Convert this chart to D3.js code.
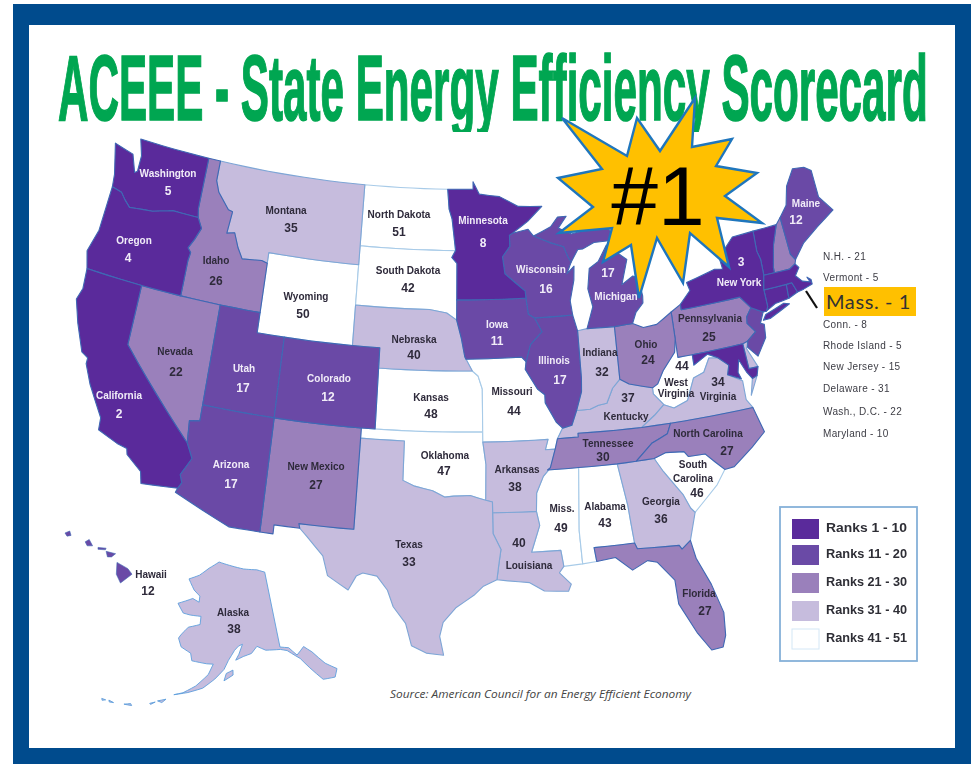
<!DOCTYPE html>
<html><head><meta charset="utf-8">
<script src="https://cdn.jsdelivr.net/npm/d3@7/dist/d3.min.js"></script>
<style>html,body{margin:0;padding:0;background:#fff}svg{display:block}</style>
</head><body><svg id="c" width="971" height="764"></svg>
<script>
// ---------- data ----------
const stateCodes=["WA","OR","CA","NV","ID","MT","WY","UT","CO","AZ","NM","ND","SD","NE","KS","OK","TX","MN","IA","MO","AR","LA","WI","IL","MI","IN","OH","KY","TN","WV","VA","NC","SC","GA","AL","MS","FL","PA","NY","VT","NH","ME","MA","RI","CT","NJ","DE","MD","DC"];
const stateRanks=[5,4,2,22,26,35,50,17,12,17,27,51,42,40,48,47,33,8,11,44,38,40,16,17,17,32,24,37,30,44,34,27,46,36,43,49,27,25,3,5,21,12,1,5,8,15,31,10,22];
const akRank=38, hiRank=12;
const stateOutlines=[
[[[-124.7,48.4],[-123.1,48.15],[-122.6,47.3],[-122.4,47.4],[-122.4,48.2],[-122.8,49],[-117.03,49],[-117.04,46.42],[-116.92,45.99],[-118.98,46],[-119.3,45.93],[-120.5,45.7],[-121.2,45.65],[-122.3,45.55],[-122.8,45.85],[-123.2,46.15],[-124,46.27],[-124.1,46.9]]],
[[[-124,46.27],[-123.2,46.15],[-122.8,45.85],[-122.3,45.55],[-121.2,45.65],[-120.5,45.7],[-119.3,45.93],[-118.98,46],[-116.92,45.99],[-116.5,45.5],[-116.85,44.9],[-117.22,44.4],[-116.95,44.2],[-117.03,43.8],[-117.03,42],[-120,42],[-124.2,42],[-124.55,42.84],[-124.1,44]]],
[[[-124.2,42],[-120,42],[-120,39],[-114.63,35],[-114.14,34.3],[-114.72,33.4],[-114.52,33.03],[-114.72,32.72],[-117.12,32.53],[-117.3,33.1],[-118.4,33.75],[-118.5,34.03],[-119.2,34.15],[-120.6,34.55],[-120.65,35.15],[-121.9,36.6],[-122.5,37.5],[-122.5,37.8],[-123,38],[-123.8,39.3],[-124.35,40.4],[-124.1,41]]],
[[[-120,42],[-117.03,42],[-114.04,42],[-114.05,37],[-114.05,36.2],[-114.75,36.1],[-114.63,35],[-120,39]]],
[[[-117.03,49],[-116.05,49],[-116.05,48],[-115.7,47.45],[-114.7,46.7],[-114.35,46.65],[-114.5,45.55],[-113.9,45.65],[-113.45,44.95],[-113,44.45],[-111.5,44.55],[-111.05,44.47],[-111.05,42],[-114.04,42],[-117.03,42],[-117.03,43.8],[-116.95,44.2],[-117.22,44.4],[-116.85,44.9],[-116.5,45.5],[-116.92,45.99],[-117.04,46.42]]],
[[[-116.05,49],[-104.05,49],[-104.05,45.94],[-104.05,45],[-111.05,45],[-111.05,44.47],[-111.5,44.55],[-113,44.45],[-113.45,44.95],[-113.9,45.65],[-114.5,45.55],[-114.35,46.65],[-114.7,46.7],[-115.7,47.45],[-116.05,48]]],
[[[-111.05,45],[-104.05,45],[-104.05,43],[-104.05,41],[-111.05,41]]],
[[[-114.04,42],[-111.05,42],[-111.05,41],[-109.05,41],[-109.05,37],[-114.05,37]]],
[[[-109.05,41],[-104.05,41],[-102.05,41],[-102.05,40],[-102.05,37],[-103,37],[-109.05,37]]],
[[[-114.05,37],[-109.05,37],[-109.05,31.33],[-111.07,31.33],[-114.82,32.5],[-114.72,32.72],[-114.52,33.03],[-114.72,33.4],[-114.14,34.3],[-114.63,35],[-114.75,36.1],[-114.05,36.2]]],
[[[-109.05,37],[-103,37],[-103.05,32],[-106.62,32],[-106.53,31.78],[-108.2,31.78],[-108.2,31.33],[-109.05,31.33]]],
[[[-104.05,49],[-97.23,49],[-97.1,48],[-96.85,47.5],[-96.56,45.94],[-104.05,45.94]]],
[[[-104.05,45.94],[-96.56,45.94],[-96.85,45.6],[-96.45,45.3],[-96.45,43.5],[-96.45,42.5],[-97.2,42.85],[-98.5,43],[-104.05,43]]],
[[[-104.05,43],[-98.5,43],[-97.2,42.85],[-96.45,42.5],[-96.1,41.6],[-95.85,40.7],[-95.31,40],[-102.05,40],[-102.05,41],[-104.05,41]]],
[[[-102.05,40],[-95.31,40],[-94.9,39.75],[-94.61,39.11],[-94.62,37],[-102.05,37]]],
[[[-103,37],[-94.62,37],[-94.62,36.5],[-94.43,35.4],[-94.48,33.64],[-95.5,33.88],[-96.6,33.85],[-97.2,33.8],[-98,34.1],[-99.2,34.3],[-100,34.56],[-100,36.5],[-103,36.5]]],
[[[-106.62,32],[-103.05,32],[-103,36.5],[-100,36.5],[-100,34.56],[-99.2,34.3],[-98,34.1],[-97.2,33.8],[-96.6,33.85],[-95.5,33.88],[-94.48,33.64],[-94.04,33.55],[-94.04,33.02],[-94.04,32],[-93.55,31.2],[-93.7,30.5],[-93.85,29.7],[-94.7,29.4],[-95.3,28.95],[-96.4,28.35],[-97.2,27.6],[-97.4,26.9],[-97.15,25.96],[-98.2,26.05],[-99.1,26.4],[-99.5,27.5],[-100.3,28.3],[-100.7,29.1],[-101.4,29.77],[-102.3,29.88],[-102.7,29.7],[-103.15,28.98],[-104.5,29.6],[-104.9,30.55],[-106,31.4],[-106.53,31.78]]],
[[[-97.23,49],[-95.15,49],[-95.15,49.38],[-94.64,48.75],[-93,48.6],[-91.5,48.07],[-89.6,48],[-90.8,47.3],[-92.05,46.75],[-92.3,46.65],[-92.3,46.1],[-92.9,45.6],[-92.75,44.75],[-91.25,43.85],[-91.22,43.5],[-96.45,43.5],[-96.45,45.3],[-96.85,45.6],[-96.56,45.94],[-96.85,47.5],[-97.1,48]]],
[[[-96.45,43.5],[-91.22,43.5],[-91.1,42.7],[-90.65,42.5],[-90.15,41.8],[-91.05,41.2],[-91.42,40.38],[-91.73,40.61],[-95.77,40.58],[-95.85,40.7],[-96.1,41.6],[-96.45,42.5]]],
[[[-95.77,40.58],[-91.73,40.61],[-91.42,40.38],[-91.5,40],[-90.7,39],[-90.2,38.7],[-90.2,38.3],[-89.5,37.3],[-89.1,37],[-89.5,36.5],[-89.7,36],[-90.37,36],[-90.15,36.5],[-94.62,36.5],[-94.62,37],[-94.61,39.11],[-94.9,39.75],[-95.31,40]]],
[[[-94.62,36.5],[-90.15,36.5],[-90.37,36],[-89.7,36],[-90.1,35.1],[-90.6,34.7],[-91.1,33.9],[-91.17,33],[-94.04,33.02],[-94.04,33.55],[-94.48,33.64],[-94.43,35.4]]],
[[[-94.04,33.02],[-91.17,33],[-91,32.3],[-91.6,31],[-89.73,31],[-89.6,30.2],[-89.9,29.9],[-89.2,29.3],[-89.4,28.95],[-90.9,29.05],[-91.8,29.5],[-93.85,29.7],[-93.7,30.5],[-93.55,31.2],[-94.04,32]]],
[[[-92.3,46.65],[-92.05,46.75],[-90.8,46.9],[-90.4,46.55],[-89.1,46.15],[-88.1,45.9],[-87.8,45.35],[-87.6,45.1],[-88,44.55],[-87.4,44.9],[-87.5,44.2],[-87.9,43.2],[-87.8,42.5],[-90.65,42.5],[-91.1,42.7],[-91.22,43.5],[-91.25,43.85],[-92.75,44.75],[-92.9,45.6],[-92.3,46.1]]],
[[[-90.65,42.5],[-87.8,42.5],[-87.53,41.7],[-87.53,39.35],[-87.6,38.7],[-88.05,37.8],[-88.45,37.1],[-89.1,37],[-89.5,37.3],[-90.2,38.3],[-90.2,38.7],[-90.7,39],[-91.5,40],[-91.42,40.38],[-91.05,41.2],[-90.15,41.8]]],
[[[-86.82,41.76],[-84.8,41.7],[-83.45,41.73],[-83.1,42.25],[-82.5,42.65],[-82.45,43],[-82.6,43.9],[-83,44.05],[-83.9,43.7],[-83.3,44.9],[-84.75,45.75],[-85.5,45],[-86.25,44.7],[-86.5,43.7],[-86.25,42.8]],
 [[-90.4,46.55],[-89,46.95],[-88.4,47.4],[-87.7,47.4],[-88.4,46.85],[-87.4,46.5],[-85,46.75],[-84.4,46.5],[-84,46],[-84.7,45.95],[-85.7,45.95],[-86.6,45.7],[-87,45.7],[-87.6,45.1],[-87.8,45.35],[-88.1,45.9],[-89.1,46.15]]],
[[[-87.53,41.7],[-86.82,41.76],[-84.8,41.7],[-84.82,39.1],[-85.4,38.7],[-85.9,38],[-86.5,37.95],[-87.1,37.8],[-88.05,37.8],[-87.6,38.7],[-87.53,39.35]]],
[[[-84.8,41.7],[-83.45,41.73],[-82.7,41.45],[-81.7,41.5],[-80.52,41.98],[-80.52,40.64],[-80.7,40],[-81.7,39.2],[-82.2,38.6],[-82.6,38.45],[-83.3,38.6],[-84.2,38.8],[-84.82,39.1]]],
[[[-89.5,36.5],[-89.1,37],[-88.45,37.1],[-88.05,37.8],[-87.1,37.8],[-86.5,37.95],[-85.9,38],[-85.4,38.7],[-84.82,39.1],[-84.2,38.8],[-83.3,38.6],[-82.6,38.45],[-82.6,38.15],[-81.97,37.54],[-82.7,37.1],[-83.68,36.6],[-88.07,36.68],[-88.07,36.5]]],
[[[-90.1,35.1],[-89.7,36],[-89.5,36.5],[-88.07,36.5],[-88.07,36.68],[-83.68,36.6],[-81.68,36.59],[-82,36.1],[-83.1,35.77],[-84.32,34.99],[-85.6,34.98],[-88.2,35],[-90.3,35]]],
[[[-80.52,40.64],[-80.52,39.72],[-79.48,39.72],[-79.48,39.2],[-78.4,39.6],[-77.72,39.32],[-78.35,39.4],[-78.87,38.76],[-79.65,38.58],[-80.3,37.55],[-81.3,37.3],[-81.97,37.54],[-82.6,38.15],[-82.6,38.45],[-82.2,38.6],[-81.7,39.2],[-80.7,40]]],
[[[-83.68,36.6],[-82.7,37.1],[-81.97,37.54],[-81.3,37.3],[-80.3,37.55],[-79.65,38.58],[-78.87,38.76],[-78.35,39.4],[-77.72,39.32],[-77.05,38.85],[-77.25,38.4],[-76.3,37.95],[-76.3,37],[-75.95,36.55],[-81.68,36.59]],
 [[-75.6,37.95],[-75.24,38.03],[-75.9,37.15]]],
[[[-84.32,34.99],[-83.1,35.77],[-82,36.1],[-81.68,36.59],[-75.95,36.55],[-75.5,35.25],[-76.5,34.65],[-77.9,33.9],[-78.55,33.86],[-79.68,34.8],[-80.8,34.82],[-81.05,35.1],[-82.3,35.2],[-83.1,35]]],
[[[-83.1,35],[-82.3,35.2],[-81.05,35.1],[-80.8,34.82],[-79.68,34.8],[-78.55,33.86],[-79.2,33.2],[-80.9,32.05],[-81.15,32.3],[-81.5,33],[-82.6,34.3]]],
[[[-85.6,34.98],[-84.32,34.99],[-83.1,35],[-82.6,34.3],[-81.5,33],[-81.15,32.3],[-80.9,32.05],[-81.45,30.72],[-82.05,30.36],[-82.2,30.57],[-84.86,30.7],[-85,31],[-85.1,32],[-85.18,32.87]]],
[[[-88.2,35],[-85.6,34.98],[-85.18,32.87],[-85.1,32],[-85,31],[-87.6,31],[-87.5,30.3],[-88.4,30.25],[-88.47,31.9]]],
[[[-90.3,35],[-88.2,35],[-88.47,31.9],[-88.4,30.25],[-89.6,30.2],[-89.73,31],[-91.6,31],[-91,32.3],[-91.17,33],[-91.1,33.9],[-90.6,34.7],[-90.1,35.1]]],
[[[-87.6,31],[-85,31],[-84.86,30.7],[-82.2,30.57],[-82.05,30.36],[-81.45,30.72],[-81.25,29.8],[-80.55,28.4],[-80.05,26.9],[-80.15,25.75],[-80.4,25.2],[-81.1,25.15],[-81.8,26.1],[-82.7,27.7],[-82.75,28.9],[-83.7,29.9],[-84.3,30.05],[-85.3,29.68],[-86.3,30.4],[-87.5,30.3]]],
[[[-80.52,41.98],[-79.76,42.27],[-79.76,42],[-75.35,42],[-74.7,41.36],[-75.13,40.97],[-75.2,40.65],[-74.72,40.15],[-75.4,39.8],[-75.79,39.72],[-79.48,39.72],[-80.52,39.72],[-80.52,40.64]]],
[[[-79.76,42.27],[-78.9,42.85],[-79.05,43.27],[-76.8,43.63],[-76.2,43.55],[-76.3,44.15],[-75,44.98],[-73.35,45.01],[-73.4,44],[-73.25,43.55],[-73.27,42.75],[-73.5,42.05],[-73.49,41.2],[-73.65,41],[-73.9,41],[-74.7,41.36],[-75.35,42],[-79.76,42]],
 [[-74,40.6],[-73.75,40.85],[-72.3,41.15],[-71.9,41.05],[-73.5,40.6]]],
[[[-73.35,45.01],[-71.5,45.01],[-72.05,44.1],[-72.45,43],[-72.46,42.73],[-73.27,42.75],[-73.25,43.55],[-73.4,44]]],
[[[-71.5,45.01],[-71.08,45.3],[-70.98,43.4],[-70.7,43.07],[-70.82,42.87],[-71.3,42.7],[-72.46,42.73],[-72.45,43],[-72.05,44.1]]],
[[[-71.08,45.3],[-70.4,45.8],[-70,46.7],[-69.2,47.45],[-68.3,47.35],[-67.8,47.07],[-67.8,45.7],[-67,44.85],[-68.5,44.3],[-69.8,43.75],[-70.7,43.07],[-70.98,43.4]]],
[[[-73.5,42.05],[-73.27,42.75],[-72.46,42.73],[-71.3,42.7],[-70.82,42.87],[-70.6,42.65],[-71,42.3],[-70.6,41.95],[-70.05,41.8],[-70.2,42.07],[-69.95,41.9],[-69.95,41.67],[-70.65,41.55],[-71.13,41.5],[-71.38,42.02],[-71.8,42.02]]],
[[[-71.8,42.02],[-71.38,42.02],[-71.13,41.5],[-71.85,41.32]]],
[[[-73.5,42.05],[-71.8,42.02],[-71.85,41.32],[-72.9,41.25],[-73.65,41],[-73.49,41.2]]],
[[[-75.13,40.97],[-74.7,41.36],[-73.9,41],[-74.25,40.5],[-74,40.4],[-74.1,39.75],[-74.9,38.95],[-75.5,39.5],[-75.4,39.8],[-74.72,40.15],[-75.2,40.65]]],
[[[-75.79,39.72],[-75.4,39.8],[-75.6,39.45],[-75.05,38.45],[-75.7,38.46]]],
[[[-79.48,39.72],[-75.79,39.72],[-75.7,38.46],[-75.05,38.45],[-75.24,38.03],[-75.6,37.95],[-75.9,38.3],[-76.3,39],[-76.5,38.4],[-76.35,38.05],[-77.25,38.4],[-77.05,38.85],[-77.72,39.32],[-78.4,39.6],[-79.48,39.2]]],
[[[-77.12,38.93],[-77.04,39],[-76.91,38.89],[-77.04,38.79]]]
];
const akOutline=[[[-141,69.65],[-143.5,70.1],[-148,70.4],[-152,70.85],[-156.6,71.35],[-160,70.5],[-163,69.5],[-166.2,68.85],[-164,67.6],[-162,66.95],[-162,66.2],[-164,66.55],[-168,65.65],[-166,64.6],[-164,64.5],[-161,64.5],[-161,63.5],[-164,63],[-165.5,62],[-166,61.5],[-165,60.5],[-162.5,59.9],[-162,59],[-158.5,58.8],[-157,58.8],[-158,57.5],[-160.5,56],[-163,55],[-164.8,54.6],[-162,55.1],[-159,55.8],[-156.5,57],[-154.5,58.2],[-153.5,59.3],[-152,60.5],[-151,61],[-150,61.2],[-151,60],[-151.8,59.3],[-150,59.7],[-148,60],[-146.5,60.8],[-144.5,60.2],[-141,60],[-139.5,59.7],[-137,58.4],[-135.5,57],[-133.5,55.2],[-131,55],[-130,55.9],[-132,57],[-134,58.8],[-135.5,59.7],[-137.5,58.9],[-139,60],[-141,60.3]],
[[-154.5,56.8],[-152.5,57.5],[-152.5,58.1],[-154,57.7]],
[[-166.9,53.4],[-166.2,53.9],[-167.8,53.5]],[[-169,52.9],[-168.2,53.3],[-169.2,53]],[[-172.5,52.2],[-174,52.1],[-172.8,52.4]],[[-176.8,51.8],[-176,51.9],[-177,52]],[[-178.2,51.7],[-177.6,51.9],[-178.4,51.9]]];
const hiOutline=[[[-155.9,20.25],[-155.1,19.85],[-154.8,19.5],[-155.65,18.95],[-155.95,19.5]],[[-156.7,20.95],[-156,20.8],[-156.3,20.6],[-156.6,20.6]],[[-158.25,21.55],[-157.95,21.7],[-157.7,21.3],[-158.1,21.3]],[[-159.75,22.1],[-159.4,22.23],[-159.3,21.95],[-159.6,21.9]],[[-157.3,21.2],[-156.7,21.15],[-156.75,21.05],[-157.3,21.08]]];
const stateLabels=["Washington","Oregon","California","Nevada","Idaho","Montana","Wyoming","Utah","Colorado","Arizona","New Mexico","North Dakota","South Dakota","Nebraska","Kansas","Oklahoma","Texas","Minnesota","Iowa","Missouri","Arkansas","Louisiana","Wisconsin","Illinois","Michigan","Indiana","Ohio","Kentucky","Tennessee","West|Virginia","Virginia","North Carolina","South|Carolina","Georgia","Alabama","Miss.","Florida","Pennsylvania","New York","Maine","Alaska","Hawaii"];
const labelValues=[5,4,2,22,26,35,50,17,12,17,27,51,42,40,48,47,33,8,11,44,38,40,16,17,17,32,24,37,30,44,34,27,46,36,43,49,27,25,3,12,38,12];
const sideList=["N.H. - 21","Vermont - 5","Mass. - 1","Conn. - 8","Rhode Island - 5","New Jersey - 15","Delaware - 31","Wash., D.C. - 22","Maryland - 10"];
const legendLabels=["Ranks 1 - 10","Ranks 11 - 20","Ranks 21 - 30","Ranks 31 - 40","Ranks 41 - 51"];
const rankBreaks=[11,21,31,41];
const rankColors=["#5a2a9b","#6a4aa6","#9a80bb","#c6bcdd","#ffffff"];

// ---------- layout ----------
// [name x, name y, value x, value y] centres
const labelPos=[[168,173,168,191],[134,240,128,258],[119,395,119,414],[175,351,176,372],[216,260,216,281],[286,210,291,228],[306,296,303,314],[244,368,243,388],[329,378,328,397],[231,464,231,484],[316,466,316,485],[399,214,399,232],[408,270,408,288],[414,339,414,355],[431,397,431,414],[445,455,444,471],[409,544,409,562],[483,220,483,243],[497,324,497,341],[512,391,514,411],[517,469,515,487],[529,565,519,543],[541,269,546,289],[554,360,560,380],[616,296,608,273],[600,352,602,372],[646,344,648,360],[626,416,628,398],[608,443,603,457],[676,382,682,366],[718,396,718,382],[708,433,727,451],[693,464,697,493],[661,501,661,519],[605,506,605,523],[562,508,561,528],[699,593,705,611],[710,318,709,337],[739,282,741,262],[806,203,796,220],[233,612,234,629],[151,574,148,591]];
const sideY=[256,277,302,324,345,366,388,411,433];
const legendY=[519,545,573,601,629];
const starVerts=[[562,118],[627,156],[637,118],[660,151],[695,98],[692,147],[732,139],[716,166],[757,173],[725,196],[762,223],[717,218],[729,267],[690,233],[683,283],[657,238],[639,298],[631,245],[603,262],[612,228],[559,233],[593,207],[558,178],[602,169]];

// ---------- drawing ----------
const svg=d3.select("#c");
const defs=svg.append("defs");
defs.append("filter").attr("id","soft").append("feGaussianBlur").attr("stdDeviation",0.55);
defs.append("filter").attr("id","softT").append("feGaussianBlur").attr("stdDeviation",0.4);
defs.append("clipPath").attr("id","titleClip").append("rect").attr("x",29).attr("y",25).attr("width",926).attr("height",107);

svg.append("rect").attr("x",13).attr("y",4).attr("width",958).attr("height",760).attr("fill","#004b8d");
svg.append("rect").attr("x",29).attr("y",25).attr("width",926).attr("height",723).attr("fill","#ffffff");

const titleG=svg.append("g").attr("clip-path","url(#titleClip)");
const title=titleG.append("text").attr("font-family","Liberation Sans").attr("font-weight","bold").attr("font-size",92).attr("fill","#00a651").attr("stroke","#00a651").attr("stroke-width",1.6)
  .text("ACEEE - State Energy Efficiency Scorecard");
title.attr("transform",`translate(58,120) scale(${870/title.node().getComputedTextLength()},1)`);

const color=d3.scaleThreshold().domain(rankBreaks).range(rankColors);

function densify(ring){
  const out=[];
  ring.forEach((p,i)=>{
    const q=ring[(i+1)%ring.length];
    const n=Math.max(1,Math.ceil(Math.abs(q[0]-p[0])));
    d3.range(n).forEach(k=>out.push([p[0]+(q[0]-p[0])*k/n,p[1]+(q[1]-p[1])*k/n]));
  });
  out.push(out[0]);
  return out;
}
function feature(polys,rank){return {type:"Feature",properties:{rank},geometry:{type:"MultiPolygon",coordinates:polys.map(r=>[densify(r)])}};}
function fitted(proj,xPts,yPts){
  const x=d3.scaleLinear().domain(xPts.map(p=>proj(p.ll)[0])).range(xPts.map(p=>p.px));
  const y=d3.scaleLinear().domain(yPts.map(p=>proj(p.ll)[1])).range(yPts.map(p=>p.px));
  return d3.geoPath(d3.geoTransform({point(lon,lat){const q=proj([lon,lat]);this.stream.point(x(q[0]),y(q[1]));}}));
}
const conic=(rot,par)=>d3.geoConicEqualArea().rotate([rot,0]).parallels(par).scale(1).translate([0,0]).precision(0);
const lower=fitted(conic(96,[29.5,45.5]),
  [{ll:[-124.2,42],px:87},{ll:[-67,44.85],px:833}],
  [{ll:[-122.8,49],px:139},{ll:[-81.1,25.15],px:650}]);
const alaska=fitted(conic(154,[55,65]),
  [{ll:[-168,65.65],px:178},{ll:[-130,55.9],px:337}],
  [{ll:[-156.6,71.35],px:562},{ll:[-141,60.3],px:647}]);
const hawaii=fitted(conic(157,[8,18]),
  [{ll:[-159.75,22.1],px:65},{ll:[-154.8,19.5],px:132}],
  [{ll:[-159.4,22.23],px:531},{ll:[-155.65,18.95],px:583}]);

const mapG=svg.append("g").attr("filter","url(#soft)");
const strokeFor=r=>r>40?"#a8cbe8":(r>30?"#7ea6d6":"#3f68b4");
const feats=stateOutlines.map((o,i)=>feature(o,stateRanks[i]));
const order=d3.range(feats.length).sort((a,b)=>stateRanks[b]-stateRanks[a]);
mapG.selectAll("path.st").data(order.map(i=>feats[i])).join("path").attr("class","st")
  .attr("d",lower).attr("fill",d=>color(d.properties.rank)).attr("stroke",d=>strokeFor(d.properties.rank)).attr("stroke-width",1.1).attr("stroke-linejoin","round");
const ak=feature(akOutline,akRank);
mapG.append("path").attr("d",alaska(ak)).attr("fill",color(akRank)).attr("stroke","#5f9fdc").attr("stroke-width",.9);
const hi=feature(hiOutline,hiRank);
mapG.append("path").attr("d",hawaii(hi)).attr("fill",color(hiRank)).attr("stroke","#3f68b4").attr("stroke-width",.6);

// state labels
const labG=svg.append("g").attr("filter","url(#softT)").attr("font-family","Liberation Sans").attr("font-weight","bold").attr("font-size",10).attr("text-anchor","middle");
const lightOn=new Set(["Washington","Oregon","California","Utah","Colorado","Arizona","Minnesota","Iowa","Wisconsin","Illinois","Michigan","New York","Maine"]);
stateLabels.forEach((name,i)=>{
  const p=labelPos[i], fill=lightOn.has(name)?"#f1ecf8":"#2e2a3a", parts=name.split("|");
  const gap=name.startsWith("West")?11:14;
  parts.forEach((t,k)=>{
    labG.append("text").attr("x",p[0]).attr("y",p[1]+3.5+k*gap).attr("fill",fill).text(t);
  });
  labG.append("text").attr("x",p[2]).attr("y",p[3]+4).attr("font-size",12).attr("fill",fill).text(labelValues[i]);
});

// side list
const sideG=svg.append("g");
sideList.forEach((t,i)=>{
  if(t.startsWith("Mass")){
    sideG.append("rect").attr("x",824).attr("y",287).attr("width",92).attr("height",29).attr("fill","#ffc000");
    sideG.append("text").attr("x",826).attr("y",sideY[i]+7).attr("font-family","Lato").attr("font-size",20).attr("letter-spacing",0.6).attr("fill","#333").text(t);
  } else {
    sideG.append("text").attr("x",823).attr("y",sideY[i]+3.5).attr("font-family","Liberation Sans").attr("font-size",10).attr("letter-spacing",0.35).attr("fill","#3c3c44").attr("filter","url(#softT)").text(t);
  }
});
sideG.append("line").attr("x1",806).attr("y1",291).attr("x2",817).attr("y2",308).attr("stroke","#111").attr("stroke-width",2.2);

// legend
const lg=svg.append("g");
lg.append("rect").attr("x",780).attr("y",507).attr("width",137).attr("height",154).attr("fill","#fff").attr("stroke","#86b1d9").attr("stroke-width",1.8);
legendLabels.forEach((t,i)=>{
  lg.append("rect").attr("x",792).attr("y",legendY[i]).attr("width",27).attr("height",20).attr("fill",rankColors[i]).attr("stroke",i===4?"#d4e7f6":"none");
  lg.append("text").attr("x",826).attr("y",legendY[i]+13).attr("font-family","Liberation Sans").attr("font-weight","bold").attr("font-size",13).attr("textLength",81).attr("lengthAdjust","spacingAndGlyphs").attr("fill","#2e2e36").attr("filter","url(#softT)").text(t);
});

// source
svg.append("text").attr("x",390).attr("y",698).attr("textLength",301).attr("lengthAdjust","spacingAndGlyphs").attr("font-family","Open Sans").attr("font-style","italic").attr("font-size",10.5).attr("fill","#444").text("Source: American Council for an Energy Efficient Economy");

// star
svg.append("path").attr("d",d3.line().curve(d3.curveLinearClosed)(starVerts)).attr("fill","#ffc000").attr("stroke","#1f76bd").attr("stroke-width",2.4).attr("stroke-linejoin","miter");
svg.append("text").attr("x",658).attr("y",225).attr("text-anchor","middle").attr("font-family","Liberation Sans").attr("font-size",84).attr("fill","#000").text("#1");
</script></body></html>
